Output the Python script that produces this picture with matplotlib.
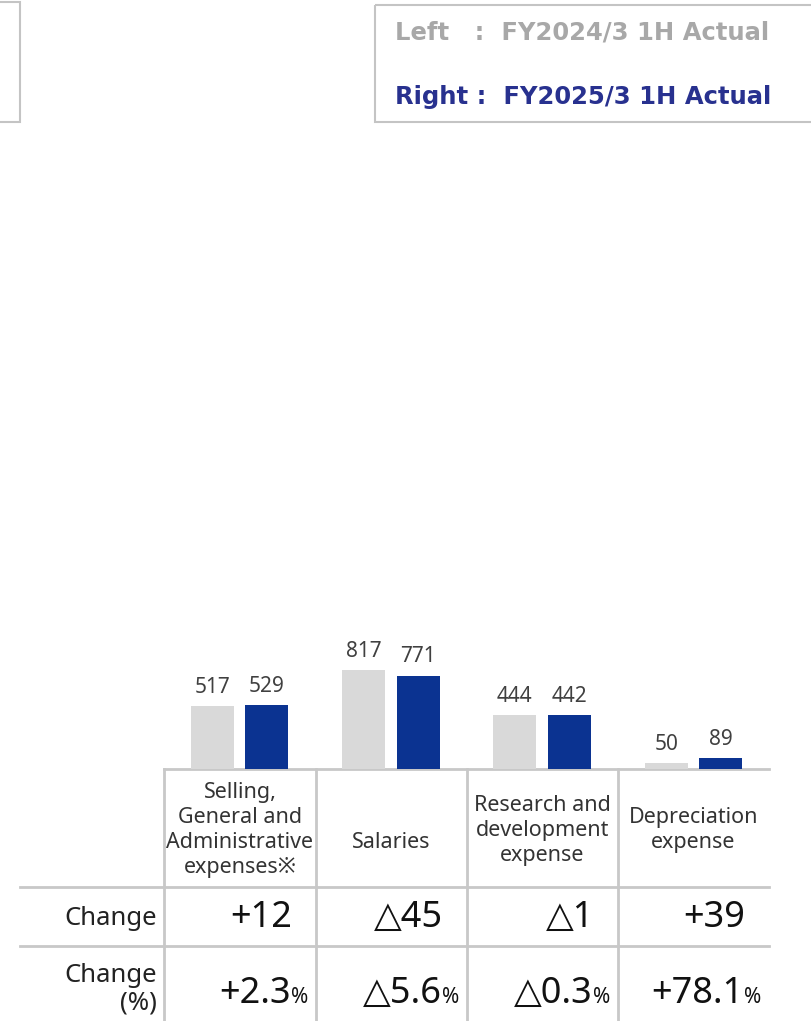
import numpy as np
import matplotlib.pyplot as plt
from matplotlib.patches import Rectangle

plt.rcParams['font.family'] = ['Noto Sans', 'DejaVu Sans', 'Noto Sans CJK JP']

# Data
categories = ['Selling,\nGeneral and\nAdministrative\nexpenses※', 'Salaries',
              'Research and\ndevelopment\nexpense', 'Depreciation\nexpense']
fy2024_values = [517, 817, 444, 50]
fy2025_values = [529, 771, 442, 89]
change_values = ['+12', '△45', '△1', '+39']
change_pct = ['+2.3', '△5.6', '△0.3', '+78.1']

gray = '#d9d9d9'
blue = '#0b3391'
line_c = '#c8c8c8'
text_c = '#404040'

fig = plt.figure(figsize=(8.11, 10.21), dpi=100)

# overlay axes in pixel coordinates for the legend boxes and table
ov = fig.add_axes([0, 0, 1, 1])
ov.set_xlim(0, 811)
ov.set_ylim(1021, 0)
ov.axis('off')

# Legend boxes
ov.add_patch(Rectangle((-5, 2), 25, 120, fill=False, edgecolor='#c4c4c4', lw=1.5))
ov.add_patch(Rectangle((375, 5), 445, 117, fill=False, edgecolor='#c4c4c4', lw=1.5))
ov.text(395, 33, 'Left   :  FY2024/3 1H Actual', color='#a8a8a8', fontsize=17.5,
        fontweight='bold', family=['DejaVu Sans'], ha='left', va='center')
ov.text(395, 97, 'Right :  FY2025/3 1H Actual', color='#28318f', fontsize=17.5,
        fontweight='bold', family=['DejaVu Sans'], ha='left', va='center')

# Bar axes
x0, x1, base_y, top_y = 164, 769, 769, 300
ax = fig.add_axes([x0 / 811, (1021 - base_y) / 1021, (x1 - x0) / 811, (base_y - top_y) / 1021])
px_per_unit = 99 / 817
ax.set_xlim(-0.5, len(categories) - 0.5)
ax.set_ylim(0, (base_y - top_y) / px_per_unit)
ax.axis('off')

x = np.arange(len(categories))
off, w = 0.18, 0.284
b1 = ax.bar(x - off, fy2024_values, width=w, color=gray)
b2 = ax.bar(x + off, fy2025_values, width=w, color=blue)
for bars, vals in [(b1, fy2024_values), (b2, fy2025_values)]:
    for bar, v in zip(bars, vals):
        ax.annotate(str(v), (bar.get_x() + bar.get_width() / 2, v), xytext=(0, 6),
                    textcoords='offset points', ha='center', va='bottom',
                    fontsize=15, color=text_c)

# Table grid
col_edges = [164, 316, 467, 618, 769]
ov.plot([164, 769], [769, 769], color=line_c, lw=2)
ov.plot([20, 769], [887, 887], color=line_c, lw=2)
ov.plot([20, 769], [946, 946], color=line_c, lw=2)
for xe in col_edges[:-1]:
    ov.plot([xe, xe], [769, 1021], color=line_c, lw=2)

# Category header cells
cat_y = [830, 842, 830, 830]
for i, cat in enumerate(categories):
    cx = (col_edges[i] + col_edges[i + 1]) / 2
    ov.text(cx, cat_y[i], cat, ha='center', va='center', fontsize=15.5,
            color='#333333', linespacing=1.25)

# Row labels
ov.text(157, 918, 'Change', ha='right', va='center', fontsize=18.5, color='#222222')
ov.text(157, 989, 'Change\n(%)', ha='right', va='center', fontsize=18.5,
        color='#222222', multialignment='right', linespacing=1.12)

# Change values
for i, val in enumerate(change_values):
    ov.text(col_edges[i + 1] - 24, 918, val, ha='right', va='center',
            fontsize=26, color='#111111')

for i, val in enumerate(change_pct):
    pct = ov.text(col_edges[i + 1] - 8, 1003, '%', ha='right', va='baseline',
                  fontsize=15, color='#111111')
    ov.annotate(val, xy=(0, 1003), xycoords=(pct, 'data'), ha='right',
                va='baseline', fontsize=26, color='#111111')

fig.savefig('out.png', dpi=100)
